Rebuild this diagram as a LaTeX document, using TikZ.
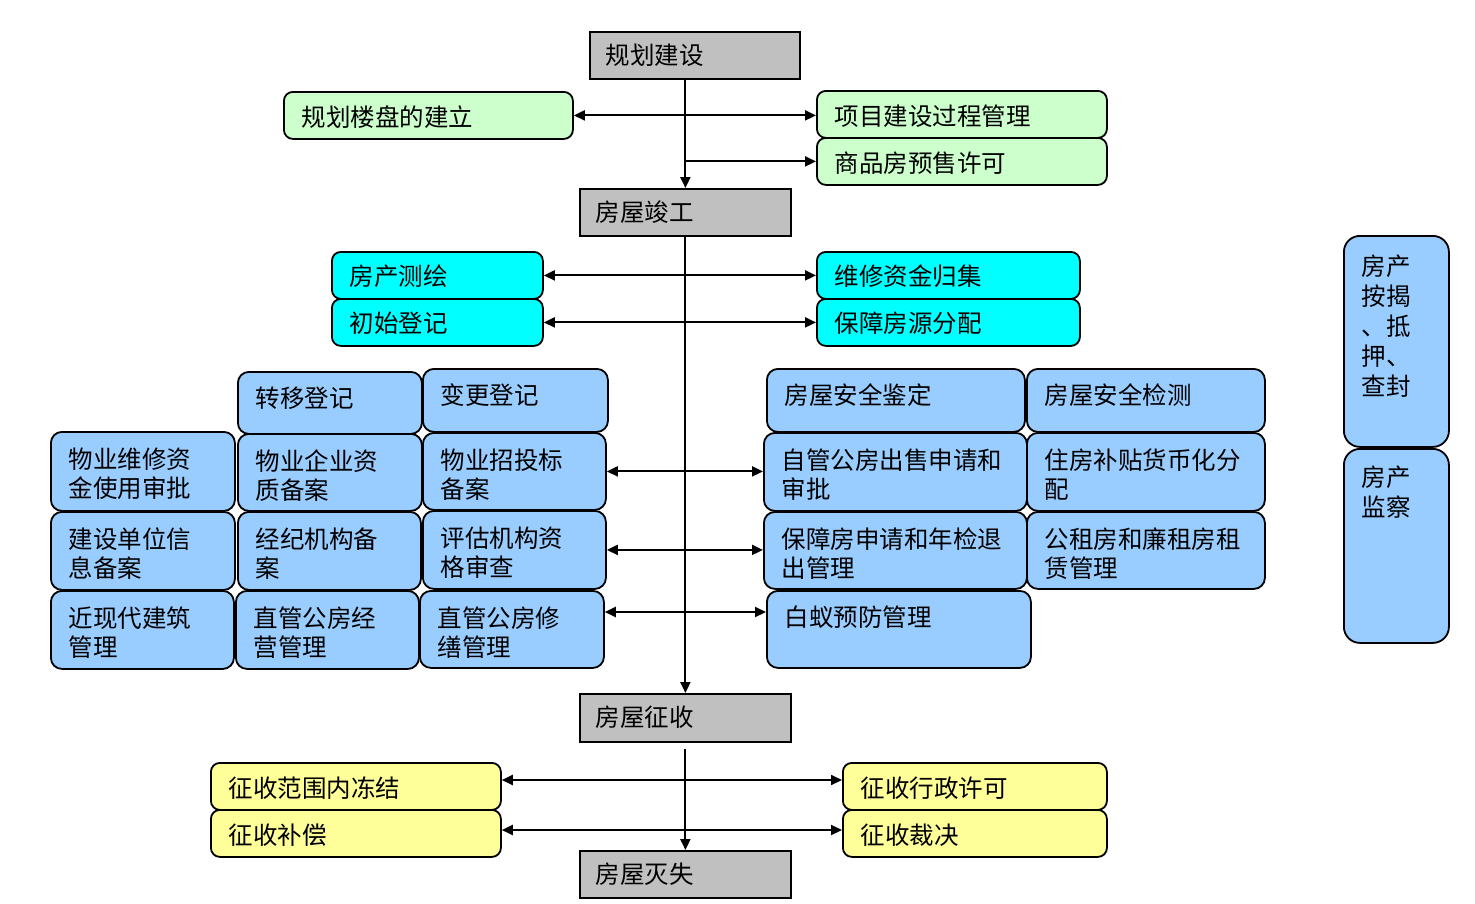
\documentclass[tikz,border=0pt]{standalone}
\usepackage{fontspec}
\newfontfamily\cjk{Noto Sans CJK SC}
\usetikzlibrary{arrows.meta}
\definecolor{grayf}{HTML}{C0C0C0}
\definecolor{greenf}{HTML}{CCFFCC}
\definecolor{cyanf}{HTML}{00FFFF}
\definecolor{bluef}{HTML}{99CCFF}
\definecolor{yellowf}{HTML}{FFFF99}
\tikzset{
  base/.style={draw=black,line width=1.8pt,font=\cjk\fontsize{24.5}{29}\selectfont,text=black},
  graybox/.style={base,fill=grayf},
  greenbox/.style={base,fill=greenf,rounded corners=9pt},
  cyanbox/.style={base,fill=cyanf,rounded corners=9pt},
  bluebox/.style={base,fill=bluef,rounded corners=11pt},
  yellowbox/.style={base,fill=yellowf,rounded corners=9pt},
  tallbox/.style={base,fill=bluef,rounded corners=16pt,font=\cjk\fontsize{24.5}{30}\selectfont},
  conn/.style={line width=2pt,draw=black},
  arr/.style={conn,-{Triangle[length=11pt,width=10pt]}},
  darr/.style={conn,{Triangle[length=11pt,width=10pt]}-{Triangle[length=11pt,width=10pt]}}
}
% name, style, x1, y1, x2, y2, first baseline offset, text
\newcommand\bx[8]{%
  \node[#2,anchor=north west,inner sep=0pt] (#1) at (#3pt,-#4pt)
  {\parbox[c][\dimexpr#6pt-#4pt\relax][t]{\dimexpr#5pt-#3pt\relax}{\leftskip=18pt\rightskip=0pt plus 1fil\parindent=0pt\rule{0pt}{#7pt}#8}};}
\begin{document}
\begin{tikzpicture}
\fill[white] (0,0) rectangle (1475pt,-903pt);
\useasboundingbox (0,0) rectangle (1475pt,-903pt);
% main chain
\bx{gh}{graybox}{589}{31}{799}{78}{33}{\hspace*{-2pt}规划建设}
\bx{jg}{graybox}{579}{188}{790}{235}{33}{\hspace*{-2pt}房屋竣工}
\bx{zs}{graybox}{579}{693}{790}{741}{33}{\hspace*{-2pt}房屋征收}
\bx{mx}{graybox}{579}{850}{790}{897}{33}{\hspace*{-2pt}房屋灭失}
% green
\bx{lp}{greenbox}{283}{91}{572}{138}{35}{规划楼盘的建立}
\bx{xm}{greenbox}{816}{90}{1106}{137}{35}{项目建设过程管理}
\bx{ys}{greenbox}{816}{137}{1106}{184}{35}{商品房预售许可}
% cyan
\bx{ch}{cyanbox}{331}{251}{542}{298}{34}{房产测绘}
\bx{cs}{cyanbox}{331}{298}{542}{345}{34}{初始登记}
\bx{wx}{cyanbox}{816}{251}{1079}{298}{34}{维修资金归集}
\bx{bz}{cyanbox}{816}{298}{1079}{345}{34}{保障房源分配}
% blue left
\bx{zy}{bluebox}{237}{371}{421}{433}{36}{转移登记}
\bx{bg}{bluebox}{422}{368}{607}{431}{36}{变更登记}
\bx{wy}{bluebox}{50}{431}{234}{510}{37}{物业维修资\\金使用审批}
\bx{qy}{bluebox}{237}{433}{421}{510}{37}{物业企业资\\质备案}
\bx{zt}{bluebox}{422}{432}{605}{509}{37}{物业招投标\\备案}
\bx{js}{bluebox}{50}{511}{234}{589}{37}{建设单位信\\息备案}
\bx{jj}{bluebox}{237}{511}{420}{589}{37}{经纪机构备\\案}
\bx{pg}{bluebox}{422}{510}{605}{588}{37}{评估机构资\\格审查}
\bx{jx}{bluebox}{50}{590}{233}{668}{37}{近现代建筑\\管理}
\bx{jy}{bluebox}{235}{590}{418}{668}{37}{直管公房经\\营管理}
\bx{xs}{bluebox}{419}{590}{603}{667}{37}{直管公房修\\缮管理}
% blue right
\bx{jd}{bluebox}{766}{368}{1024}{431}{36}{房屋安全鉴定}
\bx{jc}{bluebox}{1026}{368}{1264}{431}{36}{房屋安全检测}
\bx{zg}{bluebox}{763}{432}{1026}{510}{37}{自管公房出售申请和\\审批}
\bx{bt}{bluebox}{1026}{432}{1264}{510}{37}{住房补贴货币化分\\配}
\bx{bs}{bluebox}{763}{511}{1026}{588}{37}{保障房申请和年检退\\出管理}
\bx{gz}{bluebox}{1026}{511}{1264}{588}{37}{公租房和廉租房租\\赁管理}
\bx{by}{bluebox}{766}{590}{1030}{667}{36}{白蚁预防管理}
% far right
\bx{aj}{tallbox}{1343}{235}{1448}{446}{40}{房产\\按揭\\、抵\\押、\\查封}
\bx{jcha}{tallbox}{1343}{448}{1448}{642}{38}{房产\\监察}
% yellow
\bx{dj}{yellowbox}{210}{762}{500}{809}{35}{征收范围内冻结}
\bx{bc}{yellowbox}{210}{809}{500}{856}{35}{征收补偿}
\bx{xk}{yellowbox}{842}{762}{1106}{809}{35}{征收行政许可}
\bx{cj}{yellowbox}{842}{809}{1106}{856}{35}{征收裁决}
% connectors top
\draw[arr] (gh.south -| jg.north) -- (jg.north);
\draw[darr] (lp.east) -- (lp.east -| xm.west);
\draw[arr] (jg.north |- ys.west) -- (ys.west);
% middle
\draw[arr] (jg.south) -- (zs.north);
\draw[darr] (ch.east) -- (wx.west);
\draw[darr] (cs.east) -- (bz.west);
\draw[darr] (zt.east) -- (zt.east -| zg.west);
\draw[darr] (pg.east) -- (pg.east -| bs.west);
\draw[darr] ([yshift=-22pt]xs.north east) -- ([yshift=-22pt]by.north west);
% bottom
\draw[arr] ([yshift=-6pt]zs.south) -- (mx.north);
\draw[darr] ([yshift=-18pt]dj.north east) -- ([yshift=-18pt]xk.north west);
\draw[darr] ([yshift=-21pt]bc.north east) -- ([yshift=-21pt]cj.north west);
\end{tikzpicture}
\end{document}
